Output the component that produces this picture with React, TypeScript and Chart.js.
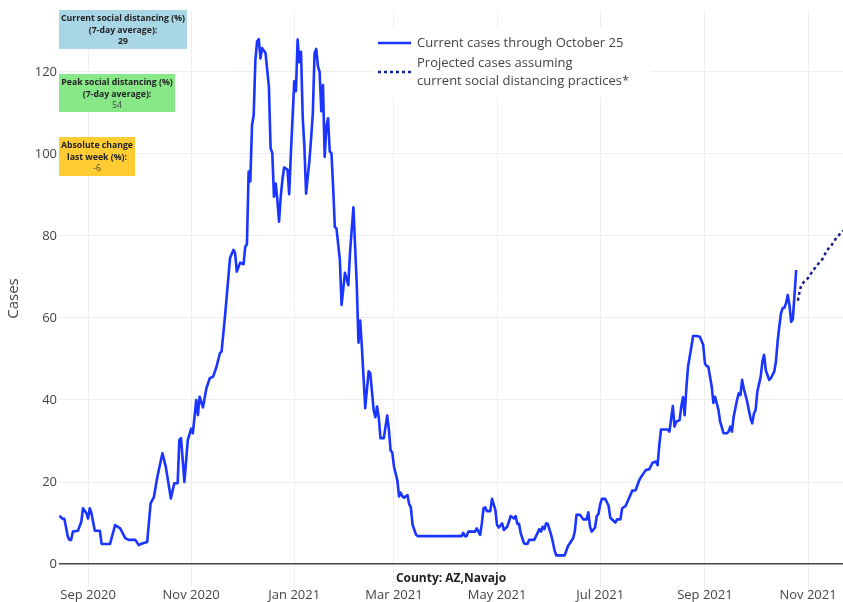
import React, { useEffect, useRef } from 'react';
import { Chart, registerables } from 'chart.js';

Chart.register(...registerables);

// ---------- data ----------
const caseDates = [
  '2020-08-15','2020-08-17','2020-08-18','2020-08-20','2020-08-21','2020-08-22','2020-08-23','2020-08-26','2020-08-28','2020-08-29','2020-08-31',
  '2020-09-01','2020-09-02','2020-09-03','2020-09-05','2020-09-08','2020-09-09','2020-09-14','2020-09-17','2020-09-20','2020-09-23','2020-09-25','2020-09-29',
  '2020-10-01','2020-10-03','2020-10-06','2020-10-08','2020-10-10','2020-10-12','2020-10-15','2020-10-17','2020-10-20','2020-10-22','2020-10-24','2020-10-25','2020-10-26','2020-10-28','2020-10-30',
  '2020-11-01','2020-11-02','2020-11-04','2020-11-05','2020-11-06','2020-11-08','2020-11-10','2020-11-12','2020-11-14','2020-11-16','2020-11-18','2020-11-19','2020-11-21','2020-11-24','2020-11-26','2020-11-27','2020-11-28','2020-11-30',
  '2020-12-02','2020-12-03','2020-12-04','2020-12-05','2020-12-06','2020-12-07','2020-12-08','2020-12-09','2020-12-10','2020-12-11','2020-12-12','2020-12-13','2020-12-15','2020-12-17','2020-12-18','2020-12-19','2020-12-20','2020-12-21','2020-12-22','2020-12-23','2020-12-24','2020-12-25','2020-12-26','2020-12-28','2020-12-29','2020-12-30',
  '2021-01-01','2021-01-02','2021-01-03','2021-01-04','2021-01-05','2021-01-06','2021-01-07','2021-01-08','2021-01-10','2021-01-11','2021-01-12','2021-01-13','2021-01-14','2021-01-15','2021-01-16','2021-01-17','2021-01-18','2021-01-19','2021-01-20','2021-01-21','2021-01-22','2021-01-23','2021-01-24','2021-01-25','2021-01-26','2021-01-28','2021-01-29','2021-01-31',
  '2021-02-01','2021-02-02','2021-02-03','2021-02-05','2021-02-07','2021-02-08','2021-02-09','2021-02-10','2021-02-12','2021-02-14','2021-02-15','2021-02-17','2021-02-18','2021-02-19','2021-02-20','2021-02-21','2021-02-23','2021-02-25','2021-02-26','2021-02-27','2021-02-28',
  '2021-03-01','2021-03-03','2021-03-04','2021-03-05','2021-03-06','2021-03-07','2021-03-09','2021-03-10','2021-03-11','2021-03-12','2021-03-14','2021-03-15',
  '2021-04-10','2021-04-11','2021-04-12','2021-04-13','2021-04-14','2021-04-18','2021-04-19','2021-04-21','2021-04-22','2021-04-23','2021-04-24','2021-04-25','2021-04-27','2021-04-28','2021-04-30',
  '2021-05-01','2021-05-02','2021-05-04','2021-05-05','2021-05-07','2021-05-08','2021-05-09','2021-05-11','2021-05-12','2021-05-13','2021-05-14','2021-05-15','2021-05-17','2021-05-19','2021-05-20','2021-05-23','2021-05-25','2021-05-26','2021-05-27','2021-05-28','2021-05-29','2021-05-30','2021-05-31',
  '2021-06-02','2021-06-03','2021-06-04','2021-06-05','2021-06-10','2021-06-12','2021-06-13','2021-06-15','2021-06-16','2021-06-17','2021-06-19','2021-06-21','2021-06-23','2021-06-24','2021-06-25','2021-06-26','2021-06-28','2021-06-29','2021-06-30',
  '2021-07-01','2021-07-02','2021-07-04','2021-07-06','2021-07-07','2021-07-09','2021-07-10','2021-07-11','2021-07-13','2021-07-14','2021-07-16','2021-07-18','2021-07-20','2021-07-22','2021-07-24','2021-07-25','2021-07-28','2021-07-30',
  '2021-08-01','2021-08-03','2021-08-04','2021-08-05','2021-08-06','2021-08-10','2021-08-11','2021-08-13','2021-08-14','2021-08-15','2021-08-17','2021-08-18','2021-08-19','2021-08-20','2021-08-21','2021-08-22','2021-08-24','2021-08-25','2021-08-27','2021-08-29','2021-08-31',
  '2021-09-01','2021-09-02','2021-09-03','2021-09-05','2021-09-06','2021-09-07','2021-09-09','2021-09-10','2021-09-12','2021-09-14','2021-09-15','2021-09-16','2021-09-17','2021-09-18','2021-09-20','2021-09-21','2021-09-22','2021-09-23','2021-09-24','2021-09-26','2021-09-28','2021-09-29','2021-09-30',
  '2021-10-01','2021-10-02','2021-10-04','2021-10-05','2021-10-06','2021-10-07','2021-10-08','2021-10-09','2021-10-10','2021-10-12','2021-10-13','2021-10-14','2021-10-15','2021-10-16','2021-10-17','2021-10-18','2021-10-19','2021-10-20','2021-10-21','2021-10-22','2021-10-23','2021-10-24','2021-10-25',
];
const caseValues = [
  11.8,11.0,11.0,6.7,5.9,5.9,7.9,8.1,10.3,13.6,12.4,
  11.1,13.6,12.4,8.1,8.1,4.9,4.9,9.5,8.7,6.3,5.9,5.9,
  4.6,5.0,5.4,14.8,16.4,21.3,27.0,23.7,16.0,19.7,19.7,30.2,30.7,20.0,30.2,
  33.0,31.9,40.0,36.3,40.8,38.2,42.8,45.3,45.7,48.1,51.4,51.8,60.3,74.6,76.6,75.8,71.3,73.5,
  73.1,77.4,78.0,95.7,93.3,107.0,109.5,122.9,127.4,128.0,123.3,125.8,124.6,116.4,101.4,100.2,89.6,92.8,88.8,83.5,89.6,93.7,96.7,96.2,90.2,100.1,
  117.7,115.3,127.9,122.4,124.9,109.0,101.8,90.3,98.5,104.0,110.0,124.5,125.6,121.4,120.0,110.4,116.8,99.3,106.7,108.7,100.6,100.2,92.0,82.2,81.8,74.1,63.2,71.0,
  69.5,68.0,76.0,87.0,68.0,54.0,59.4,53.0,38.0,47.0,46.5,37.5,35.8,38.4,35.8,30.7,30.7,36.2,32.8,27.7,27.2,
  23.8,20.4,16.5,17.4,16.5,16.2,16.8,14.6,13.8,9.6,7.2,6.8,
  6.8,7.6,6.8,6.8,7.9,7.9,8.7,7.1,9.9,13.6,13.8,12.9,12.9,15.9,13.2,
  9.5,8.9,9.9,8.3,9.1,10.3,11.7,11.1,11.7,9.8,9.8,7.5,5.0,4.9,5.9,5.9,7.6,8.5,7.9,9.1,8.5,9.9,9.8,
  7.1,5.4,3.4,2.1,2.1,4.4,5.0,6.3,7.9,12.0,12.0,10.9,10.9,12.6,9.1,7.9,8.9,11.7,12.2,
  14.5,15.9,15.9,14.2,11.3,10.5,10.1,10.9,10.9,13.6,14.1,16.0,17.9,18.0,20.3,21.1,22.9,23.1,
  24.7,25.0,24.1,29.0,32.8,32.8,32.3,38.5,33.5,34.7,35.1,38.4,40.7,36.3,42.8,48.1,53.0,55.6,55.6,55.4,53.4,
  48.9,48.3,48.1,43.3,39.3,40.8,37.6,34.7,31.9,31.9,32.3,33.5,32.3,35.9,40.0,41.6,41.2,44.9,42.8,39.6,35.5,34.3,36.7,
  37.6,42.0,45.7,49.3,51.0,47.3,46.1,44.9,45.3,46.9,49.3,54.2,57.9,61.1,62.4,62.5,63.6,65.6,63.2,59.1,59.7,65.6,71.7,
];

const projDates = ['2021-10-26','2021-10-27','2021-10-28','2021-10-30','2021-11-01','2021-11-03','2021-11-05','2021-11-08','2021-11-10','2021-11-12','2021-11-15','2021-11-18','2021-11-22'];
const projValues = [64.2,66.4,68.0,69.0,69.7,71.0,72.1,73.7,74.6,76.4,77.8,79.7,81.3];

const tickDates = ['2020-09-01','2020-11-01','2021-01-01','2021-03-01','2021-05-01','2021-07-01','2021-09-01','2021-11-01'];
const tickLabels = ['Sep 2020','Nov 2020','Jan 2021','Mar 2021','May 2021','Jul 2021','Sep 2021','Nov 2021'];
const yTicks = [0, 20, 40, 60, 80, 100, 120];

const currentDistancing = 29;
const peakDistancing = 54;
const absoluteChange = -6;
const countyLabel = 'County: AZ,Navajo';
const legendLabels = ['Current cases through October 25', 'Projected cases assuming', 'current social distancing practices*'];

// ---------- helpers ----------
const dayNum = (s: string) => Date.UTC(+s.slice(0, 4), +s.slice(5, 7) - 1, +s.slice(8, 10)) / 86400000;

const FONT = '"Open Sans", "Noto Sans", sans-serif';
const BLUE = '#1a35ff';
const NAVY = '#16218c';

const overlayPlugin = {
  id: 'overlay',
  afterDatasetsDraw(chart: any) {
    const ctx: CanvasRenderingContext2D = chart.ctx;
    ctx.save();

    // info boxes
    const boxes = [
      { x: 59, y: 10, w: 128, h: 39, color: '#a9d6e5', lines: ['Current social distancing (%)', '(7-day average):'], value: String(currentDistancing), valueBold: true },
      { x: 59, y: 74, w: 116, h: 38, color: '#88e888', lines: ['Peak social distancing (%)', '(7-day average):'], value: String(peakDistancing), valueBold: false },
      { x: 59, y: 137, w: 76, h: 39, color: '#ffcc33', lines: ['Absolute change', 'last week (%):'], value: String(absoluteChange), valueBold: false },
    ];
    ctx.textAlign = 'center';
    ctx.textBaseline = 'middle';
    boxes.forEach((b) => {
      ctx.fillStyle = b.color;
      ctx.fillRect(b.x, b.y, b.w, b.h);
      const cx = b.x + b.w / 2;
      ctx.font = `bold 8.7px ${FONT}`;
      ctx.fillStyle = '#222';
      b.lines.forEach((t, i) => ctx.fillText(t, cx, b.y + 8.7 + i * 11.6));
      ctx.font = `${b.valueBold ? 'bold ' : ''}8.7px ${FONT}`;
      ctx.fillStyle = b.valueBold ? '#222' : '#444';
      ctx.fillText(b.value, cx, b.y + 8.7 + 2 * 11.6);
    });

    // legend
    ctx.fillStyle = '#ffffff';
    ctx.fillRect(373, 27, 278, 70);
    ctx.lineWidth = 2.5;
    ctx.strokeStyle = BLUE;
    ctx.beginPath();
    ctx.moveTo(378, 43);
    ctx.lineTo(411, 43);
    ctx.stroke();
    ctx.strokeStyle = NAVY;
    ctx.setLineDash([3, 3]);
    ctx.beginPath();
    ctx.moveTo(378, 72);
    ctx.lineTo(411, 72);
    ctx.stroke();
    ctx.setLineDash([]);
    ctx.font = `13px ${FONT}`;
    ctx.fillStyle = '#444';
    ctx.textAlign = 'left';
    ctx.fillText(legendLabels[0], 417, 43);
    ctx.fillText(legendLabels[1], 417, 63.5);
    ctx.fillText(legendLabels[2], 417, 81);

    // county label
    const area = chart.chartArea;
    ctx.font = `bold 12px ${FONT}`;
    ctx.fillStyle = '#222';
    ctx.textAlign = 'center';
    ctx.fillText(countyLabel, (area.left + area.right) / 2, 579);

    ctx.restore();
  },
};

export default function App() {
  const canvasRef = useRef<HTMLCanvasElement | null>(null);

  useEffect(() => {
    if (!canvasRef.current) return;
    const caseData = caseDates.map((d, i) => ({ x: dayNum(d), y: caseValues[i] }));
    const projData = projDates.map((d, i) => ({ x: dayNum(d), y: projValues[i] }));
    const tickVals = tickDates.map(dayNum);

    const chart = new Chart(canvasRef.current, {
      type: 'line',
      data: {
        datasets: [
          {
            label: legendLabels[0],
            data: caseData,
            borderColor: BLUE,
            borderWidth: 2.6,
            pointRadius: 0,
            tension: 0,
            fill: false,
            borderJoinStyle: 'round',
          },
          {
            label: 'Projected',
            data: projData,
            borderColor: NAVY,
            borderWidth: 2.5,
            borderDash: [3, 3],
            pointRadius: 0,
            tension: 0,
            fill: false,
          },
        ],
      },
      options: {
        animation: false,
        responsive: false,
        devicePixelRatio: 1,
        events: [],
        layout: { padding: { top: 10, right: 0, left: 0, bottom: 0 } },
        plugins: { legend: { display: false }, tooltip: { enabled: false } },
        scales: {
          x: {
            type: 'linear',
            min: dayNum('2020-08-15') - 0.2,
            max: dayNum('2021-11-21') + 0.7,
            afterFit: (s: any) => { s.height = 15; },
            afterBuildTicks: (s: any) => { s.ticks = tickVals.map((v) => ({ value: v })); },
            grid: { color: '#eeeeee', lineWidth: 1, drawTicks: false },
            border: { display: false },
            ticks: {
              padding: 0,
              maxRotation: 0,
              autoSkip: false,
              color: '#444',
              font: { family: FONT, size: 13 },
              callback: (_v: any, i: number) => tickLabels[i],
            },
          },
          y: {
            type: 'linear',
            min: -5.6,
            max: 135.1,
            afterFit: (s: any) => { s.width = 59; },
            afterBuildTicks: (s: any) => { s.ticks = yTicks.map((v) => ({ value: v })); },
            grid: {
              drawTicks: false,
              color: (c: any) => (c.tick && c.tick.value === 0 ? '#444444' : '#eeeeee'),
              lineWidth: (c: any) => (c.tick && c.tick.value === 0 ? 1.6 : 1),
            },
            border: { display: false },
            ticks: {
              padding: 2,
              color: '#444',
              font: { family: FONT, size: 13 },
              callback: (v: any) => String(v),
            },
            title: {
              display: true,
              text: 'Cases',
              color: '#444',
              font: { family: FONT, size: 15 },
              padding: { top: 5, bottom: 0 },
            },
          },
        },
      },
      plugins: [overlayPlugin],
    } as any);

    return () => chart.destroy();
  }, []);

  return (
    <div style={{ position: 'fixed', left: 0, top: 0, width: 843, height: 602, background: '#fff' }}>
      <canvas ref={canvasRef} width={843} height={602} style={{ display: 'block' }} />
    </div>
  );
}
